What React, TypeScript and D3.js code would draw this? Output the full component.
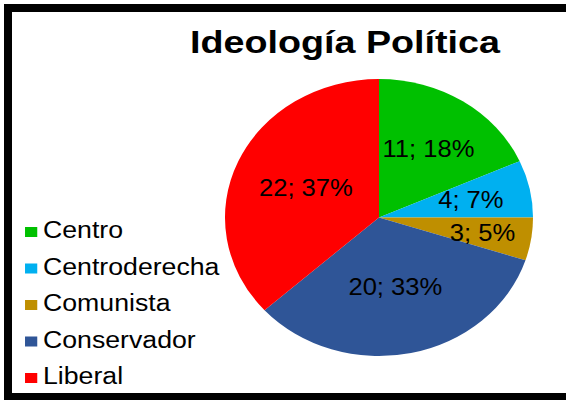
import React from "react";
import * as d3 from "d3";

const categories = ["Centro", "Centroderecha", "Comunista", "Conservador", "Liberal"];
const values = [11, 4, 3, 20, 22];
const colors = ["#00c000", "#00b0f0", "#bf8f00", "#2f5597", "#ff0000"];
const title = "Ideología Política";

// layout (not data)
const W = 566;
const H = 400;
const SX = 1.112; // horizontal stretch of the original picture
const CX = 379 / SX;
const CY = 217.5;
const R = 138.5;
const labelRadiusFrac = [0.59, 0.61, 0.68, 0.51, 0.52];
const FONT = "'Liberation Sans', Arial, sans-serif";

export default function App() {
  const total = d3.sum(values);
  const pie = d3
    .pie<number>()
    .sort(null)
    .value((d) => d)
    .startAngle(0)
    .endAngle(2 * Math.PI);
  const arcs = pie(values);
  const arc = d3.arc<d3.PieArcDatum<number>>().innerRadius(0).outerRadius(R);
  const legendY = d3.scalePoint<string>().domain(categories).range([232, 378]);

  return (
    <svg
      width={W}
      height={H}
      style={{ position: "absolute", left: 0, top: 0, display: "block", background: "#fff" }}
    >
      <rect x={0} y={0} width={W} height={H} fill="#fff" />
      <rect x={8} y={8} width={620} height={389} fill="none" stroke="#000" strokeWidth={8} />
      <text
        x={190}
        y={53}
        textLength={310}
        lengthAdjust="spacingAndGlyphs"
        fontFamily={FONT}
        fontWeight="bold"
        fontSize={32}
        fill="#000"
      >
        {title}
      </text>
      <g transform={`scale(${SX},1)`}>
        <g transform={`translate(${CX},${CY})`}>
          {arcs.map((a, i) => (
            <path key={i} d={arc(a) || ""} fill={colors[i]} />
          ))}
          {arcs.map((a, i) => {
            const lr = R * labelRadiusFrac[i];
            const c = d3.arc<d3.PieArcDatum<number>>().innerRadius(lr).outerRadius(lr).centroid(a);
            const pct = Math.round((values[i] / total) * 100);
            return (
              <text
                key={"l" + i}
                x={c[0]}
                y={c[1]}
                dy="0.36em"
                textAnchor="middle"
                fontFamily={FONT}
                fontSize={23}
                fill="#000"
              >
                {`${values[i]}; ${pct}%`}
              </text>
            );
          })}
        </g>
        {categories.map((c, i) => {
          const y = legendY(c) as number;
          return (
            <g key={"lg" + i}>
              <rect x={22.5} y={y - 5} width={11} height={10} fill={colors[i]} />
              <text x={38.7} y={y + 6.5} fontFamily={FONT} fontSize={24} fill="#000">
                {c}
              </text>
            </g>
          );
        })}
      </g>
    </svg>
  );
}
